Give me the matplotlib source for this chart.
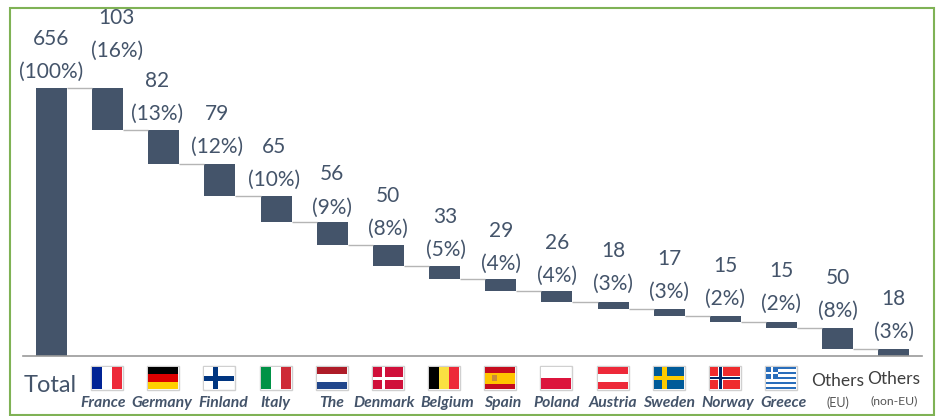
#!/usr/bin/env python3

import matplotlib
matplotlib.use('Agg')
import matplotlib.pyplot as plt
from matplotlib.patches import Rectangle

plt.rcParams['font.family'] = ['Lato', 'DejaVu Sans']

W, H = 939, 416
SLATE = '#44546A'
GREEN = '#7FB255'

total = 656
countries = ['France', 'Germany', 'Finland', 'Italy', 'The', 'Denmark', 'Belgium',
             'Spain', 'Poland', 'Austria', 'Sweden', 'Norway', 'Greece']
values = [103, 82, 79, 65, 56, 50, 33, 29, 26, 18, 17, 15, 15, 50, 18]
shares = [16, 13, 12, 10, 9, 8, 5, 4, 4, 3, 3, 2, 2, 8, 3]

# hand placed labels, offset in px from the default spot above the bar
label_dx = {1: 9, 2: -7, 3: -3, 4: -2, 7: 1}
label_dy = {1: 21, 3: 1, 5: -1, 8: -1, 9: -1, 10: 2, 11: 1, 12: 1, 13: 2, 14: 1, 15: 1}

fig = plt.figure(figsize=(W / 100, H / 100), dpi=100)

# overlay in pixel coordinates for frame and flags
px = fig.add_axes([0, 0, 1, 1])
px.set_xlim(0, W)
px.set_ylim(H, 0)
px.axis('off')

# main axes: baseline at y=356, first bar centre at x=51.5, step 56.15 px
step = 56.15
left, right = 23, 922
x0 = (left - 51.5) / step
x1 = (right - 51.5) / step
px_per_unit = 268 / total
top_px = 8
ax = fig.add_axes([left / W, (H - 356) / H, (right - left) / W, (356 - top_px) / H])
ax.set_xlim(x0, x1)
ax.set_ylim(0, (356 - top_px) / px_per_unit)
ax.patch.set_alpha(0)
for s in ['top', 'right', 'left']:
    ax.spines[s].set_visible(False)
ax.spines['bottom'].set_color('#9a9a9a')
ax.spines['bottom'].set_linewidth(1.2)
ax.set_xticks([])
ax.set_yticks([])

bar_w = 31 / step


def bar_label(x, y, top, bottom, dx=0, dy=0):
    # two separate lines, the line pitch in the reference is 33 px
    for txt, off in [(bottom, 16), (top, 49)]:
        ax.annotate(txt, (x, y), xytext=(dx * 0.72, (off + dy) * 0.72), textcoords='offset points',
                    ha='center', va='center', fontsize=15, color=SLATE, annotation_clip=False)


# total bar
ax.bar(0, total, bar_w, color=SLATE)
bar_label(0, total, f'{total}', '(100%)')

# floating bars
level = total
for i, (v, sh) in enumerate(zip(values, shares), start=1):
    bottom = level - v
    ax.bar(i, v, bar_w, bottom=bottom, color=SLATE)
    ax.plot([i - 1 + bar_w / 2, i - bar_w / 2], [level, level], color='#b5b5b5', lw=1.0,
            solid_capstyle='butt')
    bar_label(i, level, f'{v}', f'({sh}%)', label_dx.get(i, 0), label_dy.get(i, 0))
    level = bottom


def stripes_h(x, y, w, h, cols, weights=None):
    weights = weights or [1] * len(cols)
    tot = sum(weights)
    yy = y
    for c, wt in zip(cols, weights):
        px.add_patch(Rectangle((x, yy), w, h * wt / tot, color=c, lw=0))
        yy += h * wt / tot


def stripes_v(x, y, w, h, cols):
    for k, c in enumerate(cols):
        px.add_patch(Rectangle((x + k * w / len(cols), y), w / len(cols), h, color=c, lw=0))


def nordic(x, y, w, h, bg, cross, inner=None, t=5):
    px.add_patch(Rectangle((x, y), w, h, color=bg, lw=0))
    cx = x + w * 0.36
    cy = y + h / 2
    px.add_patch(Rectangle((cx - t / 2, y), t, h, color=cross, lw=0))
    px.add_patch(Rectangle((x, cy - t / 2), w, t, color=cross, lw=0))
    if inner:
        px.add_patch(Rectangle((cx - 1.25, y), 2.5, h, color=inner, lw=0))
        px.add_patch(Rectangle((x, cy - 1.25), w, 2.5, color=inner, lw=0))


def draw_flag(name, cx):
    x, y, w, h = cx - 15, 367, 30, 22
    px.add_patch(Rectangle((x - 1, y - 1), w + 2, h + 2, fc='none', ec='#d0d0d0', lw=1))
    if name == 'France':
        stripes_v(x, y, w, h, ['#002395', '#ffffff', '#ED2939'])
    elif name == 'Germany':
        stripes_h(x, y, w, h, ['#000000', '#DD0000', '#FFCE00'])
    elif name == 'Finland':
        nordic(x, y, w, h, '#ffffff', '#003580')
    elif name == 'Italy':
        stripes_v(x, y, w, h, ['#009246', '#ffffff', '#CE2B37'])
    elif name == 'The':
        stripes_h(x, y, w, h, ['#AE1C28', '#ffffff', '#21468B'])
    elif name == 'Denmark':
        nordic(x, y, w, h, '#D0103A', '#ffffff', t=3)
    elif name == 'Belgium':
        stripes_v(x, y, w, h, ['#000000', '#FAE042', '#ED2939'])
    elif name == 'Spain':
        stripes_h(x, y, w, h, ['#C60B1E', '#FFC400', '#C60B1E'], [1, 2, 1])
        px.add_patch(Rectangle((x + 7, y + 8), 5, 6, color='#C98A3A', lw=0))
    elif name == 'Poland':
        stripes_h(x, y, w, h, ['#ffffff', '#DC143C'])
    elif name == 'Austria':
        stripes_h(x, y, w, h, ['#ED2939', '#ffffff', '#ED2939'])
    elif name == 'Sweden':
        nordic(x, y, w, h, '#005B99', '#FECC00', t=4.5)
    elif name == 'Norway':
        nordic(x, y, w, h, '#EF2B2D', '#ffffff', '#002868', t=4.5)
    elif name == 'Greece':
        for k in range(9):
            c = '#2A6EBB' if k % 2 == 0 else '#ffffff'
            px.add_patch(Rectangle((x, y + k * h / 9), w, h / 9 + 0.2, color=c, lw=0))
        px.add_patch(Rectangle((x, y), 12, 5 * h / 9, color='#2A6EBB', lw=0))
        px.add_patch(Rectangle((x + 4.8, y), 2.4, 5 * h / 9, color='#ffffff', lw=0))
        px.add_patch(Rectangle((x, y + 2 * h / 9), 12, h / 9, color='#ffffff', lw=0))


name_x = [103, 162, 223, 275, 332, 384, 447, 503, 557, 613, 669, 728, 783]
for i, (name, nx) in enumerate(zip(countries, name_x), start=1):
    draw_flag(name, 51.5 + i * step - 0.5)
    px.text(nx, 403, name, ha='center', va='center', fontsize=11.3, fontweight='bold',
            fontstyle='italic', color=SLATE)

px.text(50, 385, 'Total', ha='center', va='center', fontsize=17, color=SLATE)
px.text(838, 381, 'Others', ha='center', va='center', fontsize=12.5, color='#3f3f3f')
px.text(838, 403, '(EU)', ha='center', va='center', fontsize=9, color='#555555')
px.text(894, 379, 'Others', ha='center', va='center', fontsize=12.5, color='#3f3f3f')
px.text(894, 401, '(non-EU)', ha='center', va='center', fontsize=8.8, color='#555555')

# green frame
px.add_patch(Rectangle((9.5, 7.5), 924.5, 407, fc='none', ec=GREEN, lw=1.5))

fig.savefig('out.png', dpi=100)
plt.close(fig)
